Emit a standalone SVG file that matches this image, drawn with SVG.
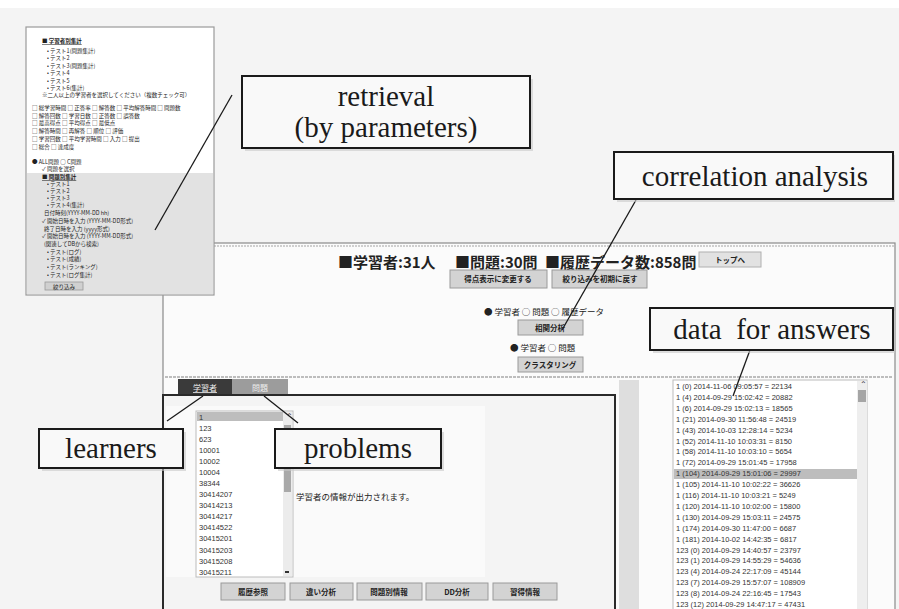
<svg xmlns="http://www.w3.org/2000/svg" width="899" height="609" viewBox="0 0 899 609">
<style>
.jp{font-family:"Noto Sans CJK JP","Noto Sans",sans-serif;fill:#222}
.sm{font-size:5.5px}
.num{font-family:"Liberation Sans",Arial,sans-serif;font-size:7.5px;fill:#333}
.btn{fill:#d3d3d3;stroke:#9a9a9a;stroke-width:1}
.btnt{font-family:"Noto Sans CJK JP",sans-serif;font-size:7.5px;font-weight:bold;fill:#222;text-anchor:middle}
.box{fill:#f9f9f9;stroke:#1a1a1a;stroke-width:2}
.shadow{fill:#c8c8c8;opacity:0.6}
.ct{font-family:"Liberation Serif","Times New Roman",serif;font-size:29px;fill:#1a1a1a;text-anchor:middle}
.conn line{stroke:#1a1a1a;stroke-width:1.3}
</style>
<rect x="0" y="0" width="899" height="609" fill="#f4f4f4"/>
<rect x="0" y="0" width="899" height="8" fill="#ffffff"/>

<!-- main screen -->
<g id="screen">
<rect x="163" y="243" width="732" height="370" fill="#fbfbfb" stroke="#8a8a8a" stroke-width="1.2"/>
<line x1="163" y1="246" x2="895" y2="246" stroke="#cfcfcf" stroke-width="2" stroke-dasharray="2 1"/>
<text class="jp" x="338" y="268" font-size="15" font-weight="bold">■学習者:31人</text>
<text class="jp" x="455" y="268" font-size="15" font-weight="bold">■問題:30問</text>
<text class="jp" x="545" y="268" font-size="15" font-weight="bold">■履歴データ数:858問</text>
<rect x="699" y="252" width="62" height="15" fill="#e2e2e2" stroke="#b0b0b0"/>
<text class="btnt" x="730" y="263" font-weight="normal">トップへ</text>
<rect class="btn" x="450" y="270" width="97" height="18"/>
<text class="btnt" x="498" y="282">得点表示に変更する</text>
<rect class="btn" x="552" y="270" width="95" height="18"/>
<text class="btnt" x="600" y="282">絞り込みを初期に戻す</text>
<text class="jp" x="484" y="315" font-size="8.5">● 学習者 ○ 問題 ○ 履歴データ</text>
<rect class="btn" x="518" y="320" width="65" height="15"/>
<text class="btnt" x="550" y="331">相関分析</text>
<text class="jp" x="510" y="351" font-size="8.5">● 学習者 ○ 問題</text>
<rect class="btn" x="518" y="357" width="65" height="15"/>
<text class="btnt" x="550" y="368">クラスタリング</text>
<line x1="165" y1="377" x2="893" y2="377" stroke="#bdbdbd" stroke-width="2" stroke-dasharray="3 1"/>
</g>

<!-- learner / problem tabs and panel -->
<g id="learner-panel">
<rect x="178" y="379" width="54" height="16" fill="#3a3a3a"/>
<text x="205" y="391" font-family="Noto Sans CJK JP,sans-serif" font-size="8" fill="#eeeeee" text-anchor="middle" text-decoration="underline">学習者</text>
<rect x="232" y="379" width="56" height="16" fill="#9c9c9c"/>
<text x="260" y="391" font-family="Noto Sans CJK JP,sans-serif" font-size="8" fill="#eeeeee" text-anchor="middle">問題</text>
<rect x="163" y="395" width="452" height="218" fill="#f4f4f4" stroke="#2a2a2a" stroke-width="2"/>
<rect x="166" y="406" width="319" height="171" fill="#fafafa"/>
<rect x="196" y="411" width="97" height="166" fill="#ffffff" stroke="#bcbcbc"/>
<rect x="197" y="412" width="86" height="9" fill="#bdbdbd"/>
<rect x="283" y="412" width="9" height="164" fill="#ececec"/>
<rect x="284" y="425" width="7" height="67" fill="#a9a9a9"/>
<text class="num" x="286" y="419" font-size="6">⌃</text>
<rect x="285" y="571" width="4" height="2" fill="#333"/>
<text class="num" x="199" y="420">1</text>
<text class="num" x="199" y="431">123</text>
<text class="num" x="199" y="442">623</text>
<text class="num" x="199" y="453">10001</text>
<text class="num" x="199" y="464">10002</text>
<text class="num" x="199" y="475">10004</text>
<text class="num" x="199" y="486">38344</text>
<text class="num" x="199" y="497">30414207</text>
<text class="num" x="199" y="508">30414213</text>
<text class="num" x="199" y="519">30414217</text>
<text class="num" x="199" y="530">30414522</text>
<text class="num" x="199" y="541">30415201</text>
<text class="num" x="199" y="553">30415203</text>
<text class="num" x="199" y="564">30415208</text>
<text class="num" x="199" y="575">30415211</text>
<text class="jp" x="296" y="500" font-size="8.5">学習者の情報が出力されます。</text>
<rect class="btn" x="221" y="583" width="64" height="17"/>
<text class="btnt" x="253" y="595">履歴参照</text>
<rect class="btn" x="290" y="583" width="63" height="17"/>
<text class="btnt" x="321" y="595">違い分析</text>
<rect class="btn" x="357" y="583" width="65" height="17"/>
<text class="btnt" x="389" y="595">問題別情報</text>
<rect class="btn" x="426" y="583" width="62" height="17"/>
<text class="btnt" x="457" y="595">DD分析</text>
<rect class="btn" x="493" y="583" width="64" height="17"/>
<text class="btnt" x="525" y="595">習得情報</text>
</g>

<!-- answer data list -->
<g id="answer-list">
<rect x="619" y="380" width="20" height="229" fill="#dedede"/>
<rect x="673" y="380" width="194" height="232" fill="#ffffff" stroke="#bcbcbc"/>
<rect x="674" y="469" width="183" height="10" fill="#bdbdbd"/>
<rect x="857" y="381" width="10" height="228" fill="#eeeeee"/>
<rect x="858" y="390" width="8" height="12" fill="#a5a5a5"/>
<text class="num" x="860" y="387" font-size="6">⌃</text>
<g class="num">
<text x="676" y="389">1 (0) 2014-11-06 09:05:57 = 22134</text>
<text x="676" y="399.9">1 (4) 2014-09-29 15:02:42 = 20882</text>
<text x="676" y="410.8">1 (6) 2014-09-29 15:02:13 = 18565</text>
<text x="676" y="421.7">1 (21) 2014-09-30 11:56:48 = 24519</text>
<text x="676" y="432.6">1 (43) 2014-10-03 12:28:14 = 5234</text>
<text x="676" y="443.5">1 (52) 2014-11-10 10:03:31 = 8150</text>
<text x="676" y="454.4">1 (58) 2014-11-10 10:03:10 = 5654</text>
<text x="676" y="465.3">1 (72) 2014-09-29 15:01:45 = 17958</text>
<text x="676" y="476.2">1 (104) 2014-09-29 15:01:06 = 29997</text>
<text x="676" y="487.1">1 (105) 2014-11-10 10:02:22 = 36626</text>
<text x="676" y="498">1 (116) 2014-11-10 10:03:21 = 5249</text>
<text x="676" y="508.9">1 (120) 2014-11-10 10:02:00 = 15800</text>
<text x="676" y="519.8">1 (130) 2014-09-29 15:03:11 = 24575</text>
<text x="676" y="530.7">1 (174) 2014-09-30 11:47:00 = 6687</text>
<text x="676" y="541.6">1 (181) 2014-10-02 14:42:35 = 6817</text>
<text x="676" y="552.5">123 (0) 2014-09-29 14:40:57 = 23797</text>
<text x="676" y="563.4">123 (1) 2014-09-29 14:55:29 = 54636</text>
<text x="676" y="574.3">123 (4) 2014-09-24 22:17:09 = 45144</text>
<text x="676" y="585.2">123 (7) 2014-09-29 15:57:07 = 108909</text>
<text x="676" y="596.1">123 (8) 2014-09-24 22:16:45 = 17543</text>
<text x="676" y="606.5">123 (12) 2014-09-29 14:47:17 = 47431</text>
</g>
</g>

<!-- retrieval side panel -->
<g id="retrieval-panel">
<rect x="26" y="27" width="188" height="268" fill="#ffffff" stroke="#9a9a9a" stroke-width="1.2"/>
<rect x="27" y="173" width="186" height="121" fill="#e2e2e2"/>
<g class="jp sm">
<text x="42" y="43" font-weight="bold" text-decoration="underline">■ 学習者別集計</text>
<text x="47" y="53">•  テスト1(問題集計)</text>
<text x="47" y="60">•  テスト2</text>
<text x="47" y="68">•  テスト3(問題集計)</text>
<text x="47" y="75">•  テスト4</text>
<text x="47" y="83">•  テスト5</text>
<text x="47" y="90">•  テスト6(集計)</text>
<text x="42" y="97">※二人以上の学習者を選択してください（複数チェック可）</text>
<text x="32" y="110">□ 総学習時間 □ 正答率 □ 解答数 □ 平均解答時間 □ 問題数</text>
<text x="32" y="118">□ 解答回数 □ 学習日数 □ 正答数 □ 誤答数</text>
<text x="32" y="125">□ 最高得点 □ 平均得点 □ 最低点</text>
<text x="32" y="133">□ 解答時間 □ 再解答 □ 順位 □ 評価</text>
<text x="32" y="141">□ 学習回数 □ 平均学習時間 □ 入力 □ 提出</text>
<text x="32" y="149">□ 総合 □ 達成度</text>
<text x="32" y="164">● ALL問題 ○ C問題</text>
<text x="42" y="171">✓ 問題を選択</text>
<text x="42" y="179" font-weight="bold" text-decoration="underline">■ 問題別集計</text>
<text x="47" y="186">•  テスト1</text>
<text x="47" y="193">•  テスト2</text>
<text x="47" y="200">•  テスト3</text>
<text x="47" y="207">•  テスト4(集計)</text>
<text x="44" y="215">日付時刻(YYYY-MM-DD hh)</text>
<text x="42" y="223">✓ 開始日時を入力 (YYYY-MM-DD形式)</text>
<text x="44" y="231">終了日時を入力 (yyyy形式)</text>
<text x="42" y="238">✓ 開始日時を入力 (YYYY-MM-DD形式)</text>
<text x="44" y="246">(関連してDBから検索)</text>
<text x="47" y="254">•  テスト(ログ)</text>
<text x="47" y="261">•  テスト(成績)</text>
<text x="47" y="269">•  テスト(ランキング)</text>
<text x="47" y="277">•  テスト(ログ集計)</text>
</g>
<rect x="45" y="282" width="38" height="8" fill="#d0d0d0" stroke="#999" stroke-width="0.8"/>
<text class="jp" x="64" y="288.5" font-size="5.5" text-anchor="middle">絞り込み</text>
</g>

<!-- connectors -->
<g id="connectors" class="conn">
<line x1="232" y1="95" x2="155" y2="230"/>
<line x1="636" y1="200" x2="562" y2="330"/>
<line x1="750" y1="350" x2="733" y2="396"/>
<line x1="203" y1="396" x2="167" y2="421"/>
<line x1="264" y1="396" x2="298" y2="423"/>
</g>

<!-- callouts -->
<g id="callout-retrieval">
<rect class="shadow" x="245" y="79" width="288" height="72"/>
<rect class="box" x="242" y="76" width="288" height="72"/>
<text class="ct" x="386" y="106">retrieval</text>
<text class="ct" x="386" y="137">(by parameters)</text>
</g>
<g id="callout-correlation">
<rect class="shadow" x="617" y="155" width="278" height="47"/>
<rect class="box" x="614" y="152" width="279" height="47"/>
<text class="ct" x="755" y="186">correlation analysis</text>
</g>
<g id="callout-data">
<rect class="shadow" x="653" y="311" width="242" height="42"/>
<rect class="box" x="650" y="308" width="243" height="42"/>
<text class="ct" x="772" y="339" xml:space="preserve">data  for answers</text>
</g>
<g id="callout-learners">
<rect class="shadow" x="42" y="432" width="144" height="39"/>
<rect class="box" x="39" y="429" width="144" height="39"/>
<text class="ct" x="111" y="458">learners</text>
</g>
<g id="callout-problems">
<rect class="shadow" x="278" y="432" width="166" height="39"/>
<rect class="box" x="275" y="429" width="166" height="39"/>
<text class="ct" x="358" y="458">problems</text>
</g>
</svg>
